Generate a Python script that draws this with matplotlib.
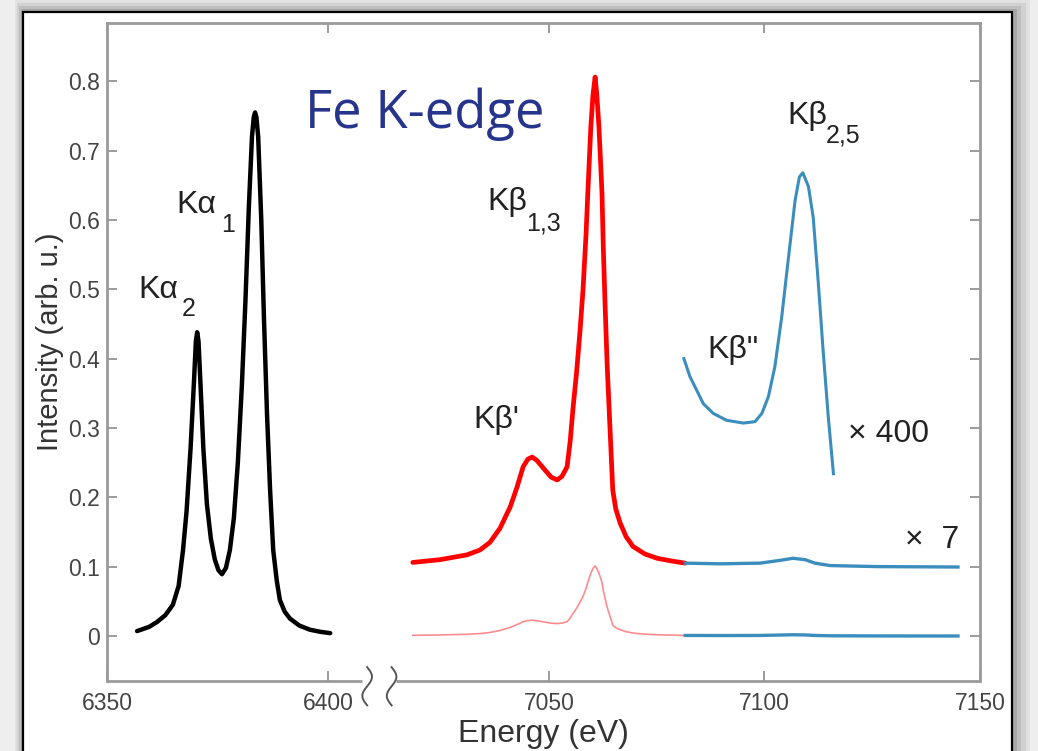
import numpy as np
import matplotlib
matplotlib.use('Agg')
import matplotlib.pyplot as plt
from matplotlib.patches import Rectangle

plt.rcParams['font.family'] = ['Liberation Sans', 'DejaVu Sans']

# K-alpha lines (black)
ka_energy = [6356.8, 6359.5, 6361.3, 6363.2, 6364.9, 6366.2, 6367.2, 6368.0, 6368.9, 6369.7,
             6370.1, 6370.4, 6370.7, 6371.1, 6371.8, 6372.6, 6373.5, 6374.4, 6375.2, 6376.0,
             6376.9, 6377.8, 6378.7, 6379.6, 6380.5, 6381.3, 6382.1, 6382.8, 6383.2, 6383.5,
             6383.8, 6384.2, 6384.9, 6385.5, 6386.2, 6386.9, 6387.6, 6388.4, 6389.1, 6390.2,
             6391.4, 6393.5, 6395.9, 6398.2, 6400.5]
ka_intensity = [0.007, 0.013, 0.020, 0.030, 0.045, 0.072, 0.124, 0.18, 0.27, 0.37,
                0.425, 0.438, 0.425, 0.37, 0.27, 0.19, 0.14, 0.11, 0.095, 0.089,
                0.098, 0.124, 0.17, 0.25, 0.36, 0.48, 0.62, 0.72, 0.748, 0.755,
                0.748, 0.72, 0.60, 0.46, 0.32, 0.21, 0.124, 0.080, 0.052, 0.035,
                0.025, 0.015, 0.009, 0.006, 0.004]

# K-beta main lines, shown x7 with +0.1 offset (red)
kb_energy = [7018.4, 7024.7, 7031.0, 7034.0, 7036.3, 7038.6, 7041.0, 7042.6, 7044.0, 7045.1,
             7046.1, 7047.2, 7049.1, 7050.5, 7051.9, 7053.0, 7054.2, 7054.9, 7055.6, 7056.4,
             7057.2, 7057.9, 7058.6, 7059.0, 7059.7, 7060.2, 7060.7, 7061.1, 7061.6, 7062.3,
             7062.6, 7063.0, 7063.5, 7064.2, 7064.8, 7065.5, 7066.5, 7067.9, 7069.5, 7072.3,
             7075.1, 7078.5, 7081.6]
kb_x7 = [0.106, 0.110, 0.117, 0.124, 0.135, 0.155, 0.186, 0.215, 0.244, 0.255,
         0.258, 0.253, 0.239, 0.229, 0.225, 0.230, 0.244, 0.28, 0.33, 0.38,
         0.44, 0.50, 0.58, 0.638, 0.733, 0.78, 0.806, 0.78, 0.733, 0.638,
         0.56, 0.48, 0.39, 0.293, 0.21, 0.183, 0.163, 0.143, 0.129, 0.118,
         0.112, 0.108, 0.105]

# valence-to-core tail, x7 with +0.1 offset (blue)
tail_energy = [7081.6, 7089.7, 7099.0, 7103.6, 7106.6, 7109.4, 7111.7, 7115.2, 7126.1, 7144.9]
tail_x7 = [0.105, 0.104, 0.105, 0.109, 0.112, 0.110, 0.105, 0.1015, 0.100, 0.0994]

# K-beta'' / K-beta 2,5 region, x400
kb25_energy = [7081.3, 7082.7, 7083.9, 7085.8, 7088.1, 7091.2, 7095.1, 7097.8, 7099.4, 7100.9,
               7102.4, 7104.0, 7105.5, 7107.1, 7108.1, 7108.9, 7110.2, 7111.3, 7112.5, 7113.6,
               7114.8, 7116.0]
kb25_x400 = [0.400, 0.374, 0.359, 0.335, 0.321, 0.311, 0.307, 0.309, 0.321, 0.345,
             0.388, 0.460, 0.542, 0.628, 0.662, 0.668, 0.648, 0.604, 0.508, 0.412,
             0.316, 0.234]

offset = 0.1
scale = 7.0
kb_raw = (np.array(kb_x7) - offset) / scale
tail_raw = (np.array(tail_x7) - offset) / scale

xticks = [6350, 6400, 7050, 7100, 7150]
yticks = [0, 0.1, 0.2, 0.3, 0.4, 0.5, 0.6, 0.7, 0.8]

# broken energy axis: squeeze 6410..7010 eV into a tiny gap
E_KNOTS = [6000, 6400, 6410, 7010, 7050, 7500]
P_KNOTS = [-1547, 221, 265.2, 269.6, 442, 2381.5]


def fwd(e):
    return np.interp(e, E_KNOTS, P_KNOTS)


def inv(p):
    return np.interp(p, P_KNOTS, E_KNOTS)


fig = plt.figure(figsize=(10.38, 7.51), dpi=100)
fig.patch.set_facecolor('#eeeeee')

# shadow + frame (behind the axes)
for i, a in enumerate([0.05, 0.07, 0.09, 0.12]):
    d = (4 - i) * 0.004
    fig.patches.append(Rectangle((0.0222 - d * 0.5, -0.02), 0.9528 + d * 1.6, 1.004 + d,
                                 transform=fig.transFigure, facecolor='k', alpha=a,
                                 edgecolor='none', zorder=-3))
fig.patches.append(Rectangle((0.0222, -0.02), 0.9528, 1.004, transform=fig.transFigure,
                             facecolor='white', edgecolor='black', linewidth=1.6, zorder=-2))

ax = fig.add_axes([0.1031, 0.0932, 0.8410, 0.8762])
ax.set_facecolor('white')
ax.set_xscale('function', functions=(fwd, inv))

ax.plot(ka_energy, ka_intensity, color='black', lw=3.2, solid_capstyle='round')
ax.plot(kb_energy, kb_x7, color='#ff0000', lw=3.4, solid_capstyle='round')
ax.plot(kb_energy, kb_raw, color='#ff8c8c', lw=1.2)
ax.plot(tail_energy, tail_x7, color='#3b8dbd', lw=2.4)
ax.plot(tail_energy, tail_raw, color='#3b8dbd', lw=2.4)
ax.plot(kb25_energy, kb25_x400, color='#3b8dbd', lw=2.2)

ax.set_xlim(6350, 7150)
ax.set_ylim(-0.065, 0.884)
ax.set_xticks(xticks)
ax.set_xticklabels([str(t) for t in xticks])
ax.set_yticks(yticks)
ax.set_yticklabels(['0', '0.1', '0.2', '0.3', '0.4', '0.5', '0.6', '0.7', '0.8'])
ax.minorticks_off()
ax.tick_params(direction='in', length=7, width=1.2, color='#8a8a8a', labelcolor='#444444',
               labelsize=16.5, top=True, right=True, pad=5)
ax.tick_params(axis='x', pad=8)

for s in ['left', 'right', 'top']:
    ax.spines[s].set_color('#9a9a9a')
    ax.spines[s].set_linewidth(2)
ax.spines['bottom'].set_visible(False)
# bottom spine with break
for x0, x1 in [(0, 0.292), (0.331, 1)]:
    ax.plot([x0, x1], [0, 0], transform=ax.transAxes, color='#9a9a9a', lw=2,
            clip_on=False, solid_capstyle='butt')
t = np.linspace(0, 1, 40)
for xc in [0.298, 0.326]:
    ax.plot(xc + 0.0055 * np.sin(2 * np.pi * t), 0.021 - 0.058 * t, transform=ax.transAxes,
            color='#555555', lw=1.4, clip_on=False)

ax.set_xlabel('Energy (eV)', fontsize=23, color='#333333')
ax.xaxis.set_label_coords(0.5, -0.058)
ax.xaxis.label.set_va('top')
ax.set_ylabel('Intensity (arb. u.)', fontsize=21, color='#333333')
ax.yaxis.set_label_coords(-0.049, 0.515)

# peak labels: main text and a lowered subscript
lab = dict(fontsize=23, color='#222222', ha='left', va='baseline')
sub = dict(fontsize=18, color='#222222', ha='left', va='baseline')
ax.text(6357.0, 0.488, 'K\u03b1', **lab)
ax.text(6367.0, 0.462, '2', **sub)
ax.text(6365.8, 0.610, 'K\u03b1', **lab)
ax.text(6375.8, 0.582, '1', **sub)
ax.text(7035.6, 0.614, 'K\u03b2', **lab)
ax.text(7044.7, 0.585, '1,3', **sub)
ax.text(7105.2, 0.739, 'K\u03b2', **lab)
ax.text(7114.3, 0.712, '2,5', **sub)
ax.text(7032.4, 0.300, "K\u03b2'", **lab)
ax.text(7086.7, 0.401, 'K\u03b2"', **lab)
ax.text(7119.4, 0.280, '\u00d7 400', **lab)
ax.text(7132.6, 0.127, '\u00d7  7', **lab)

ax.text(6394.8, 0.732, 'Fe K-edge', fontsize=38, color='#27348b', ha='left', va='baseline',
        family=['Open Sans', 'DejaVu Sans'])

fig.savefig('out.png', dpi=100, facecolor=fig.get_facecolor())
